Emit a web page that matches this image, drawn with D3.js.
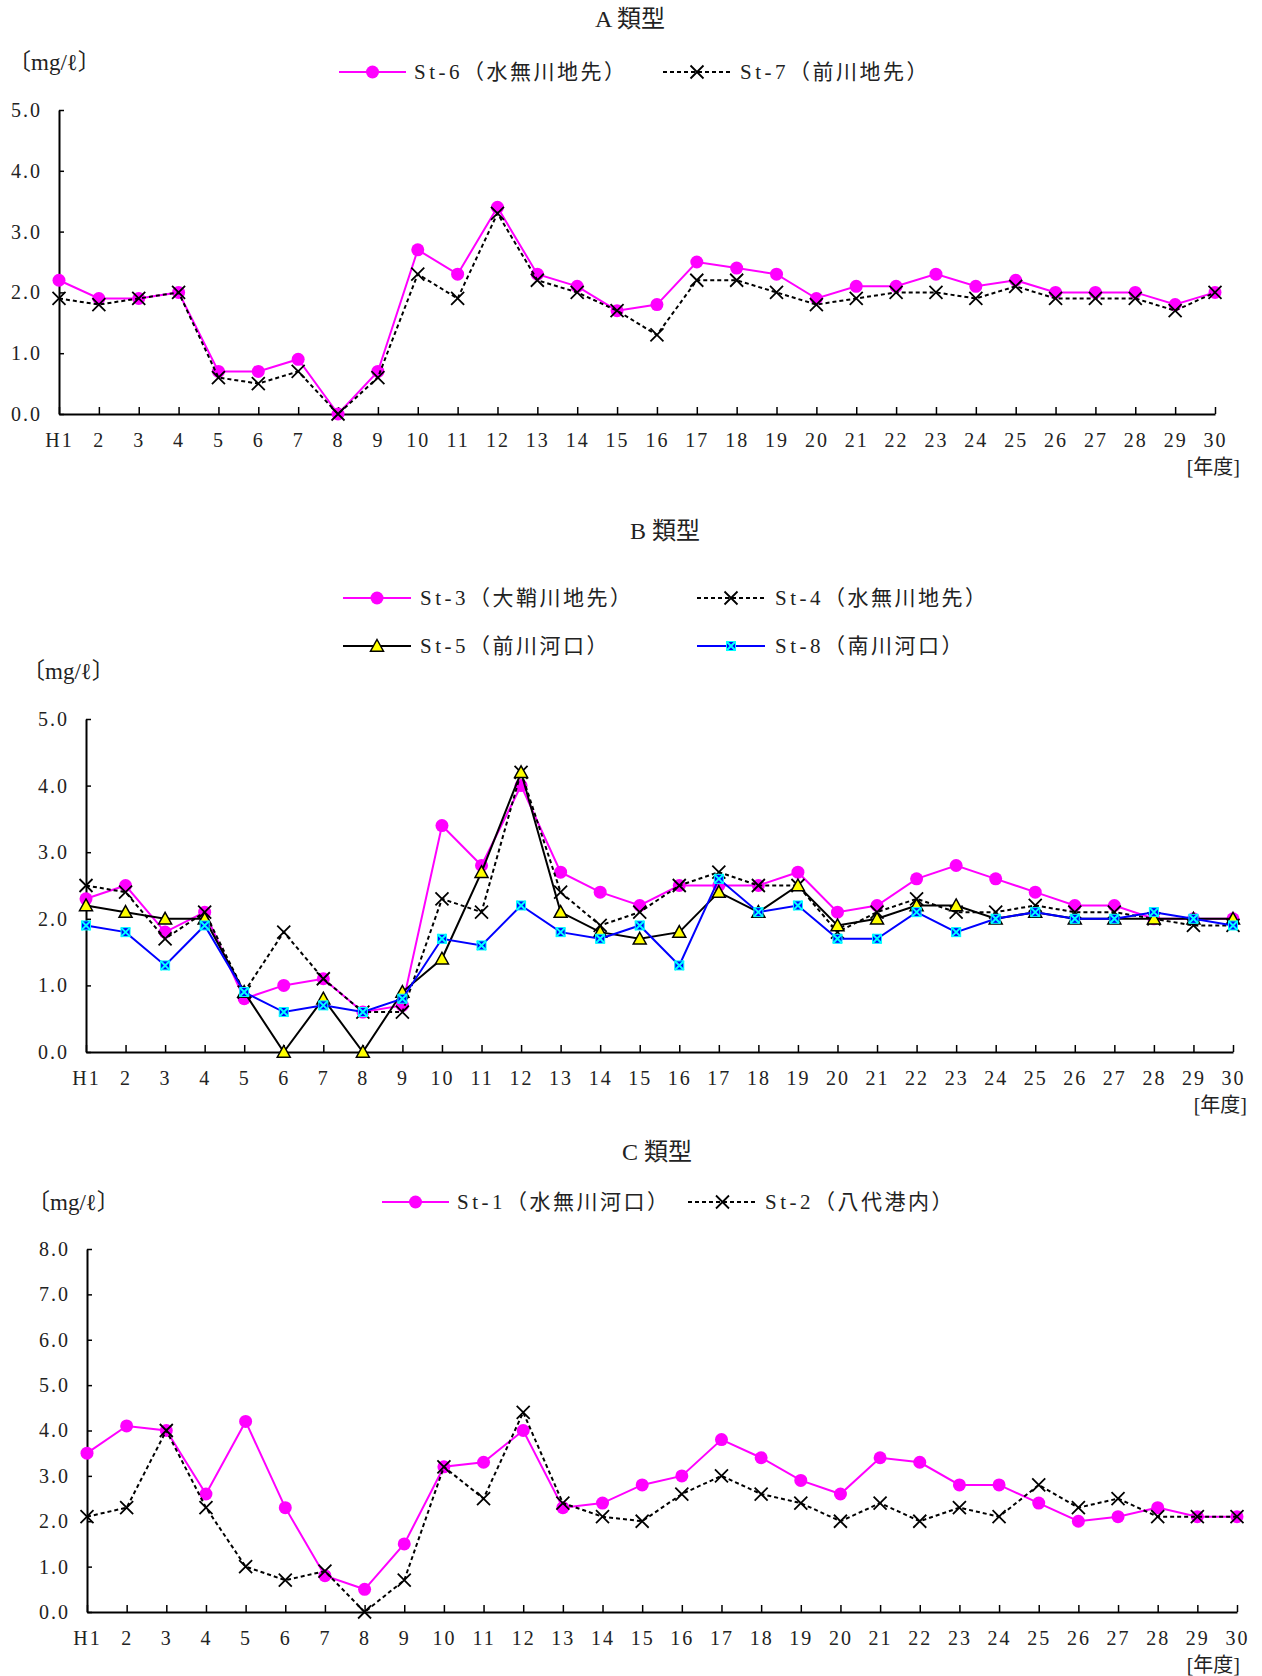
<!DOCTYPE html>
<html>
<head>
<meta charset="utf-8">
<script src="https://cdn.jsdelivr.net/npm/d3@7"></script>
<style>
  body { margin: 0; background: #fff; }
  svg { display: block; }
</style>
</head>
<body>
<div id="chart"></div>
<script>
// data
const yearLabels = ["H1","2","3","4","5","6","7","8","9","10","11","12","13","14","15",
                    "16","17","18","19","20","21","22","23","24","25","26","27","28","29","30"]
const ticksAB = [0, 1, 2, 3, 4, 5]
const ticksC = [0, 1, 2, 3, 4, 5, 6, 7, 8]

// A類型
const aSt6 = [2.2,1.9,1.9,2.0,0.7,0.7,0.9,0.0,0.7,2.7,2.3,3.4,2.3,2.1,1.7,1.8,2.5,2.4,2.3,1.9,2.1,2.1,2.3,2.1,2.2,2.0,2.0,2.0,1.8,2.0]
const aSt7 = [1.9,1.8,1.9,2.0,0.6,0.5,0.7,0.0,0.6,2.3,1.9,3.3,2.2,2.0,1.7,1.3,2.2,2.2,2.0,1.8,1.9,2.0,2.0,1.9,2.1,1.9,1.9,1.9,1.7,2.0]

// B類型
const bSt3 = [2.3,2.5,1.8,2.1,0.8,1.0,1.1,0.6,0.7,3.4,2.8,4.0,2.7,2.4,2.2,2.5,2.5,2.5,2.7,2.1,2.2,2.6,2.8,2.6,2.4,2.2,2.2,2.0,2.0,2.0]
const bSt4 = [2.5,2.4,1.7,2.1,0.9,1.8,1.1,0.6,0.6,2.3,2.1,4.2,2.4,1.9,2.1,2.5,2.7,2.5,2.5,1.8,2.1,2.3,2.1,2.1,2.2,2.1,2.1,2.0,1.9,1.9]
const bSt5 = [2.2,2.1,2.0,2.0,0.9,0.0,0.8,0.0,0.9,1.4,2.7,4.2,2.1,1.8,1.7,1.8,2.4,2.1,2.5,1.9,2.0,2.2,2.2,2.0,2.1,2.0,2.0,2.0,2.0,2.0]
const bSt8 = [1.9,1.8,1.3,1.9,0.9,0.6,0.7,0.6,0.8,1.7,1.6,2.2,1.8,1.7,1.9,1.3,2.6,2.1,2.2,1.7,1.7,2.1,1.8,2.0,2.1,2.0,2.0,2.1,2.0,1.9]

// C類型
const cSt1 = [3.5,4.1,4.0,2.6,4.2,2.3,0.8,0.5,1.5,3.2,3.3,4.0,2.3,2.4,2.8,3.0,3.8,3.4,2.9,2.6,3.4,3.3,2.8,2.8,2.4,2.0,2.1,2.3,2.1,2.1]
const cSt2 = [2.1,2.3,4.0,2.3,1.0,0.7,0.9,0.0,0.7,3.2,2.5,4.4,2.4,2.1,2.0,2.6,3.0,2.6,2.4,2.0,2.4,2.0,2.3,2.1,2.8,2.3,2.5,2.1,2.1,2.1]

// styles
const styles = {
    pink:  { color: '#ff00ff', dash: null, marker: 'circle' },
    cross: { color: '#000000', dash: '4,3', marker: 'cross' },
    tri:   { color: '#000000', dash: null, marker: 'triangle' },
    blue:  { color: '#0000ff', dash: null, marker: 'square' }
}

const W = 1262, H = 1676
const serifFont = '"Liberation Serif", "Noto Sans CJK JP", serif'

const svg = d3.select('#chart')
    .append('svg')
    .attr('width', W)
    .attr('height', H)

// marker drawer
const drawMarker = (g, type, cx, cy) => {
    if (type === 'circle') {
        g.append('circle').attr('cx', cx).attr('cy', cy).attr('r', 6.5)
            .attr('fill', '#ff00ff')
    } else if (type === 'cross') {
        const s = 6.5
        g.append('path')
            .attr('d', `M${cx - s},${cy - s}L${cx + s},${cy + s}M${cx - s},${cy + s}L${cx + s},${cy - s}`)
            .attr('stroke', '#000').attr('stroke-width', 1.8).attr('fill', 'none')
    } else if (type === 'triangle') {
        const s = 6.5
        g.append('path')
            .attr('d', `M${cx},${cy - s}L${cx + s},${cy + s * 0.8}L${cx - s},${cy + s * 0.8}Z`)
            .attr('fill', '#ffff00').attr('stroke', '#000').attr('stroke-width', 1.5)
    } else if (type === 'square') {
        const s = 4.5
        g.append('rect').attr('x', cx - s).attr('y', cy - s)
            .attr('width', 2 * s).attr('height', 2 * s)
            .attr('fill', '#0000ff').attr('stroke', '#00ffff').attr('stroke-width', 1)
        g.append('path')
            .attr('d', `M${cx - s},${cy - s}L${cx + s},${cy + s}M${cx - s},${cy + s}L${cx + s},${cy - s}`)
            .attr('stroke', '#00ffff').attr('stroke-width', 2).attr('fill', 'none')
    }
}

const drawChart = (cfg) => {
    const g = svg.append('g')
    const x = d3.scalePoint().domain(yearLabels).range([cfg.x0, cfg.x1])
    const y = d3.scaleLinear().domain([0, cfg.yMax]).range([cfg.yBottom, cfg.yTop])

    // title
    g.append('text')
        .attr('x', cfg.titleX).attr('y', cfg.titleY)
        .attr('text-anchor', 'middle').attr('dominant-baseline', 'central')
        .style('font-family', serifFont).style('font-size', '24px')
        .attr('fill', '#222')
        .text(cfg.title)

    // unit
    g.append('text')
        .attr('x', cfg.unitX).attr('y', cfg.unitY)
        .attr('dominant-baseline', 'central')
        .style('font-family', serifFont).style('font-size', '23px')
        .attr('fill', '#222')
        .text('〔mg/ℓ〕')

    // year label
    g.append('text')
        .attr('x', cfg.yearX).attr('y', cfg.yBottom + 53)
        .attr('text-anchor', 'end').attr('dominant-baseline', 'central')
        .style('font-family', serifFont).style('font-size', '20px')
        .attr('fill', '#222')
        .text('[年度]')

    // axes
    const xAxis = g.append('g')
        .attr('transform', `translate(0,${cfg.yBottom})`)
        .call(d3.axisBottom(x).tickSizeInner(-7).tickSizeOuter(0).tickPadding(19))
    const yAxis = g.append('g')
        .attr('transform', `translate(${cfg.x0},0)`)
        .call(d3.axisLeft(y).tickValues(cfg.ticks).tickSizeInner(-5).tickSizeOuter(0)
            .tickPadding(17).tickFormat(d3.format('.1f')))
    ;[xAxis, yAxis].forEach(a => {
        a.select('.domain').attr('stroke', '#000').attr('stroke-width', 2)
        a.selectAll('.tick line').attr('stroke', '#000').attr('stroke-width', 1.5)
        a.selectAll('.tick text')
            .attr('fill', '#222')
            .style('font-family', serifFont).style('font-size', '20px')
            .style('letter-spacing', '2px')
    })

    // series
    cfg.series.forEach(s => {
        const st = styles[s.style]
        const line = d3.line()
            .x((d, i) => x(yearLabels[i]))
            .y(d => y(d))
        g.append('path')
            .datum(s.values)
            .attr('d', line)
            .attr('fill', 'none')
            .attr('stroke', st.color)
            .attr('stroke-width', 2)
            .attr('stroke-dasharray', st.dash)
        const mg = g.append('g')
        s.values.forEach((v, i) => drawMarker(mg, st.marker, x(yearLabels[i]), y(v)))
    })

    // legend
    cfg.legend.forEach(l => {
        const st = styles[l.style]
        g.append('line')
            .attr('x1', l.lx0).attr('x2', l.lx1).attr('y1', l.y).attr('y2', l.y)
            .attr('stroke', st.color).attr('stroke-width', 2)
            .attr('stroke-dasharray', st.dash)
        drawMarker(g, st.marker, (l.lx0 + l.lx1) / 2, l.y)
        const t = g.append('text')
            .attr('x', l.tx).attr('y', l.y)
            .attr('dominant-baseline', 'central')
            .attr('fill', '#222')
            .style('font-family', serifFont).style('font-size', '21px')
        t.append('tspan').style('letter-spacing', '3.5px').text(l.code)
        t.append('tspan').style('letter-spacing', '2.5px').text(l.name)
    })
}

drawChart({
    title: 'A 類型', titleX: 630, titleY: 19,
    unitX: 8, unitY: 62, yearX: 1240,
    x0: 59, x1: 1215, yTop: 110, yBottom: 414, yMax: 5, ticks: ticksAB,
    series: [
        { values: aSt6, style: 'pink' },
        { values: aSt7, style: 'cross' }
    ],
    legend: [
        { code: 'St-6', name: '（水無川地先）', style: 'pink', lx0: 339, lx1: 406, tx: 414, y: 72 },
        { code: 'St-7', name: '（前川地先）', style: 'cross', lx0: 663, lx1: 731, tx: 740, y: 72 }
    ]
})

drawChart({
    title: 'B 類型', titleX: 665, titleY: 531,
    unitX: 22, unitY: 671, yearX: 1247,
    x0: 86, x1: 1233, yTop: 719, yBottom: 1052, yMax: 5, ticks: ticksAB,
    series: [
        { values: bSt3, style: 'pink' },
        { values: bSt4, style: 'cross' },
        { values: bSt5, style: 'tri' },
        { values: bSt8, style: 'blue' }
    ],
    legend: [
        { code: 'St-3', name: '（大鞘川地先）', style: 'pink', lx0: 343, lx1: 411, tx: 420, y: 598 },
        { code: 'St-4', name: '（水無川地先）', style: 'cross', lx0: 697, lx1: 765, tx: 775, y: 598 },
        { code: 'St-5', name: '（前川河口）', style: 'tri', lx0: 343, lx1: 411, tx: 420, y: 646 },
        { code: 'St-8', name: '（南川河口）', style: 'blue', lx0: 697, lx1: 765, tx: 775, y: 646 }
    ]
})

drawChart({
    title: 'C 類型', titleX: 657, titleY: 1152,
    unitX: 27, unitY: 1202, yearX: 1240,
    x0: 87, x1: 1237, yTop: 1249, yBottom: 1612, yMax: 8, ticks: ticksC,
    series: [
        { values: cSt1, style: 'pink' },
        { values: cSt2, style: 'cross' }
    ],
    legend: [
        { code: 'St-1', name: '（水無川河口）', style: 'pink', lx0: 382, lx1: 449, tx: 457, y: 1202 },
        { code: 'St-2', name: '（八代港内）', style: 'cross', lx0: 688, lx1: 757, tx: 765, y: 1202 }
    ]
})
</script>
</body>
</html>
